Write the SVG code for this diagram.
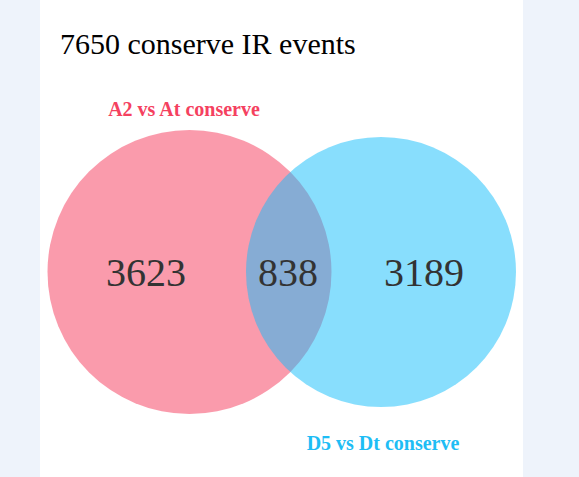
<svg xmlns="http://www.w3.org/2000/svg" width="579" height="477" viewBox="0 0 579 477">
<style>
.num{font-family:"Liberation Serif",serif;font-size:40px;fill:#333333;text-anchor:middle}
.lbl{font-family:"Liberation Serif",serif;font-size:20px;font-weight:bold;text-anchor:middle}
.title{font-family:"Liberation Serif",serif;font-size:30px;fill:#000000}
</style>
<rect x="0" y="0" width="579" height="477" fill="#eef3fb"/>
<rect x="40" y="0" width="483" height="477" fill="#ffffff"/>
<text class="title" x="60" y="54">7650 conserve IR events</text>
<g id="setA">
<circle cx="189.5" cy="272" r="142" fill="#f5375a" fill-opacity="0.5"/>
<text class="lbl" x="184" y="116" fill="#f5415f">A2 vs At conserve</text>
<text class="num" x="146" y="286">3623</text>
</g>
<g id="setB">
<circle cx="381" cy="272" r="135" fill="#11bdfb" fill-opacity="0.5"/>
<text class="lbl" x="383" y="450" fill="#1ebdf5">D5 vs Dt conserve</text>
<text class="num" x="424" y="286">3189</text>
</g>
<g id="intersection">
<text class="num" x="288" y="286">838</text>
</g>
<g id="connectors"/>
</svg>
